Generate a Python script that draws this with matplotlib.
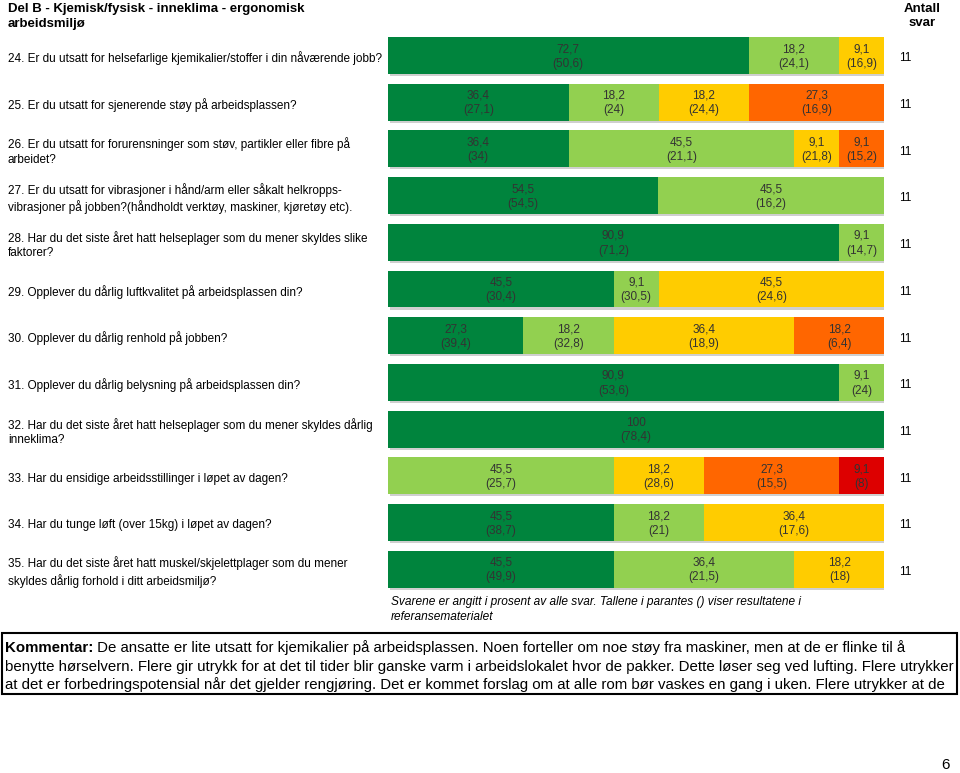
import numpy as np
import matplotlib
matplotlib.use("Agg")
import matplotlib.pyplot as plt
import matplotlib.transforms as mtrans
import matplotlib.patheffects as pe
from matplotlib.patches import Rectangle

plt.rcParams['font.family'] = ['Liberation Sans', 'DejaVu Sans']

# ---------------- data ----------------
questions = [
    "24. Er du utsatt for helsefarlige kjemikalier/stoffer i din nåværende jobb?",
    "25. Er du utsatt for sjenerende støy på arbeidsplassen?",
    "26. Er du utsatt for forurensninger som støv, partikler eller fibre på\narbeidet?",
    "27. Er du utsatt for vibrasjoner i hånd/arm eller såkalt helkropps-\nvibrasjoner på jobben?(håndholdt verktøy, maskiner, kjøretøy etc).",
    "28. Har du det siste året hatt helseplager som du mener skyldes slike\nfaktorer?",
    "29. Opplever du dårlig luftkvalitet på arbeidsplassen din?",
    "30. Opplever du dårlig renhold på jobben?",
    "31. Opplever du dårlig belysning på arbeidsplassen din?",
    "32. Har du det siste året hatt helseplager som du mener skyldes dårlig\ninneklima?",
    "33. Har du ensidige arbeidsstillinger i løpet av dagen?",
    "34. Har du tunge løft (over 15kg) i løpet av dagen?",
    "35. Har du det siste året hatt muskel/skjelettplager som du mener\nskyldes dårlig forhold i ditt arbeidsmiljø?",
]
nan = np.nan
dark_green   = [72.7, 36.4, 36.4, 54.5, 90.9, 45.5, 27.3, 90.9, 100, 0, 45.5, 45.5]
light_green  = [18.2, 18.2, 45.5, 45.5, 9.1, 9.1, 18.2, 9.1, 0, 45.5, 18.2, 36.4]
yellow       = [9.1, 18.2, 9.1, 0, 0, 45.5, 36.4, 0, 0, 18.2, 36.4, 18.2]
orange       = [0, 27.3, 9.1, 0, 0, 0, 18.2, 0, 0, 27.3, 0, 0]
red          = [0, 0, 0, 0, 0, 0, 0, 0, 0, 9.1, 0, 0]

dark_green_ref  = [50.6, 27.1, 34, 54.5, 71.2, 30.4, 39.4, 53.6, 78.4, nan, 38.7, 49.9]
light_green_ref = [24.1, 24, 21.1, 16.2, 14.7, 30.5, 32.8, 24, nan, 25.7, 21, 21.5]
yellow_ref      = [16.9, 24.4, 21.8, nan, nan, 24.6, 18.9, nan, nan, 28.6, 17.6, 18]
orange_ref      = [nan, 16.9, 15.2, nan, nan, nan, 6.4, nan, nan, 15.5, nan, nan]
red_ref         = [nan, nan, nan, nan, nan, nan, nan, nan, nan, 8, nan, nan]

counts = [11, 11, 11, 11, 11, 11, 11, 11, 11, 11, 11, 11]

title_lines = ["Del B - Kjemisk/fysisk - inneklima - ergonomisk", "arbeidsmiljø"]
count_header_lines = ["Antall", "svar"]
footnote = ("Svarene er angitt i prosent av alle svar. Tallene i parantes () viser resultatene i\n"
            "referansematerialet")
comment_bold = "Kommentar:"
comment_lines = [
    " De ansatte er lite utsatt for kjemikalier på arbeidsplassen. Noen forteller om noe støy fra maskiner, men at de er flinke til å",
    "benytte hørselvern. Flere gir utrykk for at det til tider blir ganske varm i arbeidslokalet hvor de pakker. Dette løser seg ved lufting. Flere utrykker",
    "at det er forbedringspotensial når det gjelder rengjøring. Det er kommet forslag om at alle rom bør vaskes en gang i uken. Flere utrykker at de",
]
page_number = "6"

series = [dark_green, light_green, yellow, orange, red]
series_ref = [dark_green_ref, light_green_ref, yellow_ref, orange_ref, red_ref]
colors = ["#00843D", "#92D050", "#FFCC00", "#FF6600", "#DD0000"]

# ---------------- figure ----------------
W, H = 960, 773
fig = plt.figure(figsize=(W / 100, H / 100), dpi=100)

def fx(px):
    return px / W

def fy(py):
    return 1 - py / H

n = len(questions)
row0, step = 55.5, 46.7
top_px = row0 - step / 2
bot_px = row0 + step * (n - 1) + step / 2
x0_px, x1_px = 388, 884
ax = fig.add_axes([fx(x0_px), fy(bot_px), fx(x1_px - x0_px), (bot_px - top_px) / H])
ax.set_xlim(0, 100)
ax.set_ylim(n - 0.5, -0.5)
ax.axis("off")

def fmt(v):
    s = f"{v:.1f}"
    if s.endswith(".0"):
        s = s[:-2]
    return s.replace(".", ",")

y = np.arange(n)
left = np.zeros(n)
shadow = [pe.SimplePatchShadow(offset=(1.5, -1.5), shadow_rgbFace="#b0b0b0", alpha=0.6), pe.Normal()]
for vals, refs, col in zip(series, series_ref, colors):
    vals = np.array(vals, dtype=float)
    bars = ax.barh(y, vals, left=left, height=0.79, color=col, linewidth=0)
    for b in bars:
        b.set_path_effects(shadow)
    for i in range(n):
        if vals[i] > 0:
            ax.text(left[i] + vals[i] / 2, i + 0.02, f"{fmt(vals[i])}\n({fmt(refs[i])})",
                    ha="center", va="center", fontsize=8.5, color="#333333",
                    linespacing=1.3)
    left += vals

lab_tr = mtrans.blended_transform_factory(fig.transFigure, ax.transData)
for i, q in enumerate(questions):
    ax.text(fx(8), i + 0.06, q, transform=lab_tr, ha="left", va="center",
            fontsize=8.5, color="#000000", linespacing=1.3)
    ax.text(fx(905), i + 0.06, str(counts[i]), transform=lab_tr, ha="center",
            va="center", fontsize=8.5, color="#000000")

for k, (tl, hl) in enumerate(zip(title_lines, count_header_lines)):
    base = 12 + 14.5 * k
    fig.text(fx(8), fy(base), tl, ha="left", va="baseline", fontsize=9.5,
             fontweight="bold")
    fig.text(fx(922), fy(base), hl, ha="center", va="baseline", fontsize=9.5,
             fontweight="bold")

fig.text(fx(391), fy(596), footnote, ha="left", va="top", fontsize=8.6,
         style="italic", linespacing=1.35)

# comment box
fig.patches.append(Rectangle((fx(2), fy(694)), fx(955), (694 - 633) / H,
                             transform=fig.transFigure, fill=False,
                             edgecolor="black", linewidth=1.5))
cfs = 10.8
renderer = fig.canvas.get_renderer()
line_bases = [652, 671, 689]
tb = fig.text(fx(5), fy(line_bases[0]), comment_bold, ha="left", va="baseline",
              fontsize=cfs, fontweight="bold")
bb = tb.get_window_extent(renderer=renderer)
fig.text(bb.x1 / W, fy(line_bases[0]), comment_lines[0], ha="left", va="baseline",
         fontsize=cfs)
for ly, line in zip(line_bases[1:], comment_lines[1:]):
    fig.text(fx(5), fy(ly), line, ha="left", va="baseline", fontsize=cfs)

fig.text(fx(945), fy(765), page_number, ha="center", va="center", fontsize=11)

fig.savefig("out.png", dpi=100)
